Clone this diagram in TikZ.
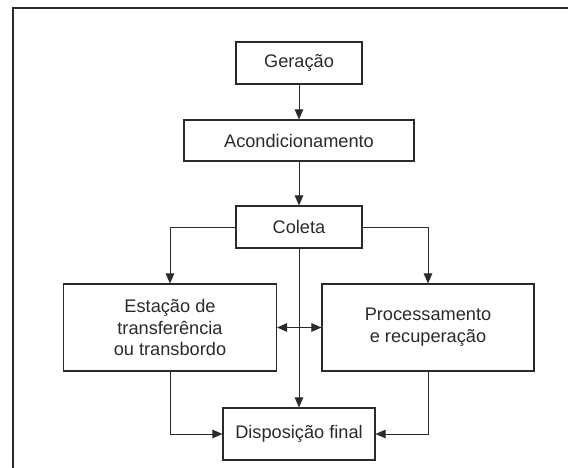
\documentclass[tikz,border=0pt]{standalone}
\usepackage{fontspec}
\setmainfont{Liberation Sans}
\usetikzlibrary{arrows.meta}
\definecolor{ink}{HTML}{2A2A2A}
\begin{document}
\begin{tikzpicture}[x=1pt,y=-1pt,
  box/.style={draw=ink,line width=1.1pt,text=ink,inner sep=0pt,align=center,
    font=\fontsize{18.2}{21.7}\selectfont},
  conn/.style={draw=ink,line width=1pt,-{Triangle[length=10pt,width=8.5pt]}},
  dconn/.style={draw=ink,line width=1pt,{Triangle[length=10pt,width=8.5pt]}-{Triangle[length=10pt,width=8.5pt]}}]
\useasboundingbox (0,0) rectangle (568,468);
\draw[ink,line width=2pt] (12.7,468) -- (12.7,8.5) -- (568,8.5);
\node[box,minimum width=126pt,minimum height=42pt] (gen) at (299,63) {Geração};
\node[box,minimum width=230pt,minimum height=41pt] (acond) at (299,140.5) {Acondicionamento};
\node[box,minimum width=126pt,minimum height=42pt] (col) at (299,227) {Coleta};
\node[box,minimum width=213pt,minimum height=87pt] (est) at (170,327.5) {Estação de\\transferência\\ou transbordo};
\node[box,minimum width=212pt,minimum height=87pt] (proc) at (428,327.5) {Processamento\\e recuperação};
\node[box,minimum width=152pt,minimum height=52pt] (disp) at (299,434) {Disposição final};
\draw[conn] (gen) -- (acond);
\draw[conn] (acond) -- (col);
\draw[conn] (col.west) -| (est.north);
\draw[conn] (col.east) -| (proc.north);
\draw[conn] (col) -- (disp);
\draw[dconn] (est.east) -- (proc.west);
\draw[conn] (est.south) |- (disp.west);
\draw[conn] (proc.south) |- (disp.east);
\end{tikzpicture}
\end{document}
